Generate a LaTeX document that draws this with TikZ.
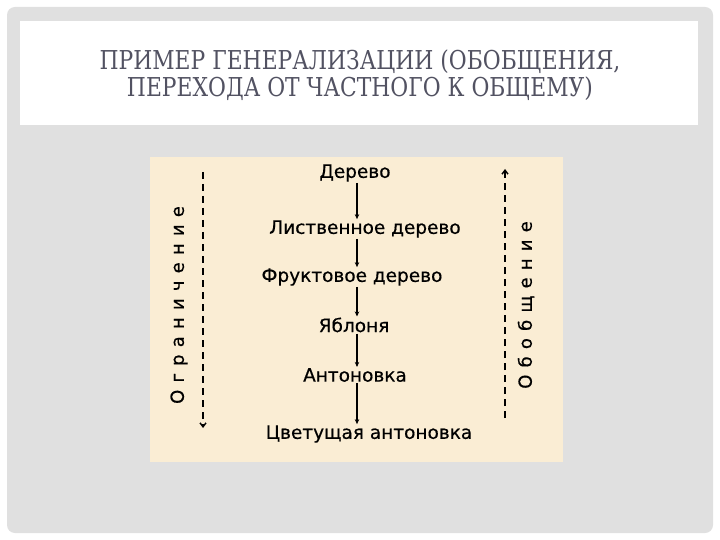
\documentclass[tikz,border=0pt]{standalone}
\usepackage{fontspec}
\setmainfont{DejaVu Serif}
\newfontfamily\titlefont[FakeStretch=0.84]{DejaVu Serif}
\newfontfamily\handfont[FakeBold=0.5]{DejaVu Sans}
\usetikzlibrary{arrows.meta}
\definecolor{BoardClr}{RGB}{224,224,224}
\definecolor{PaperClr}{RGB}{250,237,212}
\definecolor{TitleClr}{RGB}{82,82,98}

\begin{document}
\begin{tikzpicture}[x=1pt,y=-1pt,
  word/.style={font=\handfont\fontsize{18.5}{21}\selectfont,inner sep=1pt},
  side/.style={font=\handfont\addfontfeature{LetterSpace=40}\fontsize{18}{20}\selectfont,rotate=90,inner sep=0pt},
  link/.style={line width=1.4pt,-{Stealth[length=5pt,width=4.5pt]}},
  dashlink/.style={line width=1.4pt,dash pattern=on 7pt off 5pt,-{Straight Barb[length=4pt,width=6pt]}}]
\useasboundingbox (0,0) rectangle (720,540);
\fill[white] (0,0) rectangle (720,540);
\fill[BoardClr,rounded corners=8pt] (7,7) rectangle (713,533);
\fill[white] (20,21) rectangle (698,125);
\fill[PaperClr] (150,157) rectangle (563,462);

\node[font=\titlefont\fontsize{26}{27}\selectfont,text=TitleClr,align=center] (title) at (360,75)
  {ПРИМЕР ГЕНЕРАЛИЗАЦИИ (ОБОБЩЕНИЯ,\\ПЕРЕХОДА ОТ ЧАСТНОГО К ОБЩЕМУ)};

\node[word] (d1) at (355,173) {Дерево};
\node[word] (d2) at (365,229) {Лиственное дерево};
\node[word] (d3) at (352,277) {Фруктовое дерево};
\node[word] (d4) at (354,325) {Яблоня};
\node[word] (d5) at (355,375) {Антоновка};
\node[word] (d6) at (369,434) {Цветущая антоновка};

\coordinate (axis) at (357,0);
\foreach \a/\b in {d1/d2,d2/d3,d3/d4,d4/d5,d5/d6}
  \draw[link] (axis |- \a.south) -- (axis |- \b.north);

\coordinate (limtop) at (203,172);
\coordinate (limend) at (203,428);
\coordinate (gentop) at (505,169);
\coordinate (genend) at (505,418);
\draw[dashlink] (limtop) -- (limend);
\draw[dashlink] (genend) -- (gentop);

\node[side] (lim) at (179,305) {Ограничение};
\node[side] (gen) at (526,305) {Обобщение};

\end{tikzpicture}
\end{document}
